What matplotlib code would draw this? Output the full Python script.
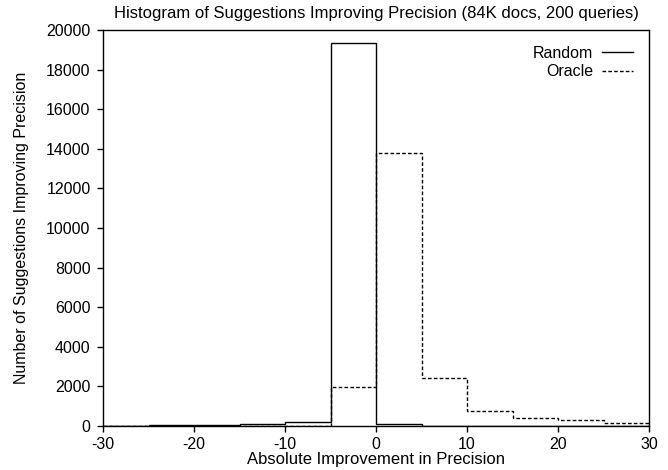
import matplotlib
matplotlib.use("Agg")
import matplotlib.pyplot as plt
import numpy as np

plt.rcParams['font.family'] = ['Liberation Sans', 'DejaVu Sans']
plt.rcParams['axes.unicode_minus'] = False

# bin edges of the histogram (width 5)
edges = [-30, -25, -20, -15, -10, -5, 0, 5, 10, 15, 20, 25, 30]
random_counts = [20, 30, 40, 80, 200, 19360, 120, 10, 5, 3, 2, 1]
oracle_counts = [0, 0, 0, 0, 0, 1980, 13770, 2430, 780, 420, 280, 170]

fs = 11.5

fig = plt.figure(figsize=(6.68, 4.70), dpi=100)
ax = fig.add_axes([0.1542, 0.0936, 0.8174, 0.8426])

ax.stairs(random_counts, edges, baseline=0, color='black', linewidth=1.0, label='Random')
ax.stairs(oracle_counts, edges, baseline=0, color='black', linewidth=1.0,
          linestyle=(0, (2.6, 1.6)), label='Oracle')

ax.set_xlim(-30, 30)
ax.set_ylim(0, 20000)
ax.set_xticks(np.arange(-30, 31, 10))
ax.set_yticks(np.arange(0, 20001, 2000))
ax.tick_params(direction='out', length=4, labelsize=fs, width=1.0)
ax.tick_params(axis='x', pad=4)
ax.tick_params(axis='y', pad=5)
for s in ax.spines.values():
    s.set_linewidth(1.0)

ax.set_xlabel("Absolute Improvement in Precision", fontsize=12, labelpad=0)
ax.set_ylabel("Number of Suggestions Improving Precision", fontsize=fs, labelpad=12)
ax.set_title("Histogram of Suggestions Improving Precision (84K docs, 200 queries)",
             fontsize=12, pad=8.5)

leg = ax.legend(loc='upper right', frameon=False, fontsize=fs, markerfirst=False,
                handlelength=1.95, handletextpad=0.55, borderaxespad=0.6,
                labelspacing=0.2)
for t in leg.get_texts():
    t.set_ha('right')

fig.savefig("out.png", dpi=100)
